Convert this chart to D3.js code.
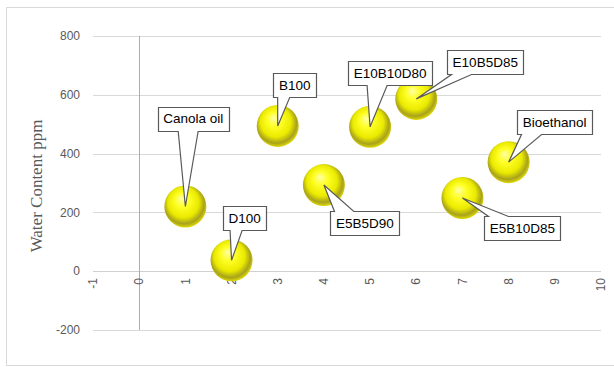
<!DOCTYPE html>
<html><head><meta charset="utf-8">
<script src="https://cdn.jsdelivr.net/npm/d3@7"></script>
<style>
body{margin:0;background:#fff;}
svg{display:block;}
</style></head>
<body>
<svg id="chart" width="614" height="367"></svg>
<script>
// Data
const names = ["Canola oil","D100","B100","E5B5D90","E10B10D80","E10B5D85","E5B10D85","Bioethanol"];
const xValues = [1,2,3,4,5,6,7,8];
const yValues = [220,37,494,293,491,586,249,371];
const xTicks = [-1,0,1,2,3,4,5,6,7,8,9,10];
const yTicks = [-200,0,200,400,600,800];
const yTitle = "Water Content ppm";
// label placement offsets (pixels from bubble centre to callout box centre)
const labelDx = [8,13,17,41,20,69,60,46];
const labelDy = [-88,-42,-41,38,-54,-37,30,-40];

const svg = d3.select("#chart");

// outer border
svg.append("rect").attr("x",6.5).attr("y",7.5).attr("width",620).attr("height",358)
  .attr("fill","#fff").attr("stroke","#d9d9d9").attr("stroke-width",1);

const x = d3.scaleLinear().domain([-1,10]).range([93,601]);
const y = d3.scaleLinear().domain([-200,800]).range([330,36]);

const defs = svg.append("defs");
const grad = defs.append("radialGradient").attr("id","ball")
  .attr("cx","48%").attr("cy","45%").attr("r","56%").attr("fx","40%").attr("fy","30%");
grad.append("stop").attr("offset","0%").attr("stop-color","#ffffa8");
grad.append("stop").attr("offset","30%").attr("stop-color","#ffff26");
grad.append("stop").attr("offset","65%").attr("stop-color","#eaea00");
grad.append("stop").attr("offset","86%").attr("stop-color","#a8a21c");
grad.append("stop").attr("offset","100%").attr("stop-color","#e4e000");

// gridlines
svg.append("g").selectAll("line").data(yTicks.filter(d=>d!==0)).join("line")
  .attr("x1",x(-1)).attr("x2",x(10))
  .attr("y1",d=>Math.round(y(d))+0.5).attr("y2",d=>Math.round(y(d))+0.5)
  .attr("stroke","#d9d9d9").attr("stroke-width",1);

// y tick labels
svg.append("g").selectAll("text").data(yTicks).join("text")
  .attr("x",80).attr("y",d=>y(d)).attr("dy","0.35em")
  .attr("text-anchor","end").attr("fill","#595959")
  .attr("font-family","'Liberation Sans', Arial, sans-serif").attr("font-size",12)
  .text(d=>d);

// horizontal axis (y=0)
svg.append("line").attr("x1",x(-1)).attr("x2",x(10))
  .attr("y1",Math.round(y(0))+0.5).attr("y2",Math.round(y(0))+0.5)
  .attr("stroke","#d0d0d0").attr("stroke-width",1);

// vertical axis (x=0)
svg.append("line").attr("x1",Math.round(x(0))+0.5).attr("x2",Math.round(x(0))+0.5)
  .attr("y1",y(800)).attr("y2",y(-200))
  .attr("stroke","#8db3e2").attr("stroke-width",1);

// x tick labels rotated
svg.append("g").selectAll("text").data(xTicks).join("text")
  .attr("transform",d=>`translate(${x(d)},278) rotate(-90)`)
  .attr("dy","0.35em").attr("text-anchor","end").attr("fill","#595959")
  .attr("font-family","'Liberation Sans', Arial, sans-serif").attr("font-size",12)
  .text(d=>d);

// y title
svg.append("text").attr("transform",`translate(42,${(y(800)+y(-200))/2+3}) rotate(-90)`)
  .attr("text-anchor","middle").attr("fill","#595959")
  .attr("font-family","'Liberation Serif', 'Times New Roman', serif").attr("font-size",17)
  .text(yTitle);

const pts = names.map((n,i)=>({name:n, x:xValues[i], y:yValues[i], dx:labelDx[i], dy:labelDy[i]}));

// bubbles
svg.append("g").selectAll("circle").data(pts).join("circle")
  .attr("cx",d=>x(d.x)).attr("cy",d=>y(d.y)).attr("r",21)
  .attr("fill","url(#ball)");

// callouts
const lg = svg.append("g");
pts.forEach(d=>{
  const px = x(d.x), py = y(d.y);
  const g = lg.append("g");
  const t = g.append("text").attr("font-family","'Liberation Sans', Arial, sans-serif")
    .attr("font-size",13.5).attr("fill","#000").attr("text-anchor","middle")
    .attr("dy","0.36em").text(d.name);
  const tw = t.node().getComputedTextLength();
  const bw = Math.round(tw + 11), bh = 24;
  const cx = px + d.dx, cy = py + d.dy;
  const L = Math.round(cx - bw/2)+0.5, T = Math.round(cy - bh/2)+0.5, R = L+bw, B = T+bh;
  let path;
  const below = py > B;
  const baseW = Math.min(20, bw*0.28);
  const b0 = Math.max(L+4, Math.min(R-4-baseW, px - baseW/2 + (cx-px)*0.35));
  if (below) {
    path = `M${L},${T}H${R}V${B}H${b0+baseW}L${px},${py}L${b0},${B}H${L}Z`;
  } else {
    path = `M${L},${T}H${b0}L${px},${py}L${b0+baseW},${T}H${R}V${B}H${L}Z`;
  }
  g.insert("path","text").attr("d",path).attr("fill","#fff")
    .attr("stroke","#595959").attr("stroke-width",1.2).attr("stroke-linejoin","miter");
  t.attr("x",cx).attr("y",cy);
});
</script>
</body></html>
